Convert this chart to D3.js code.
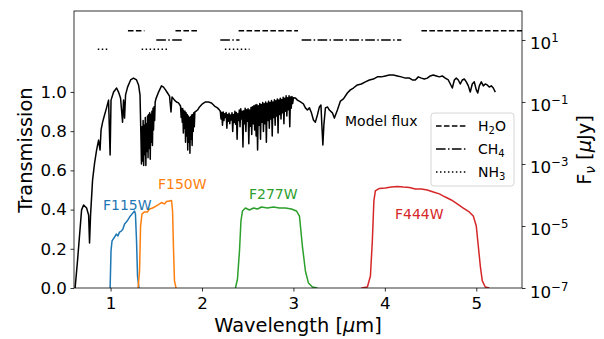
<!DOCTYPE html>
<html>
<head>
<meta charset="utf-8">
<script src="https://cdn.jsdelivr.net/npm/d3@7"></script>
<style>
  body { margin: 0; background: #fff; }
  svg { font-family: "DejaVu Sans", sans-serif; }
</style>
</head>
<body>
<svg id="chart" width="604" height="339"></svg>
<script>
// model spectrum: [wavelength um, log10 flux uJy]
const modelSpectrum = [
  [0.612,-7.00],[0.639,-6.10],[0.661,-5.29],[0.683,-4.48],[0.705,-4.32],[0.738,-4.42],[0.760,-4.65],[0.770,-5.55],
  [0.781,-4.65],[0.803,-3.52],[0.825,-2.97],[0.847,-2.55],[0.869,-2.23],[0.885,-2.55],[0.896,-1.90],[0.913,-1.65],
  [0.934,-1.42],[0.956,-1.19],[0.978,-0.94],[0.995,-2.71],[1.005,-0.94],[1.033,-0.68],[1.066,-0.55],[1.087,-0.68],
  [1.109,-0.87],[1.120,-1.26],[1.131,-1.65],[1.142,-0.94],[1.153,-1.52],[1.164,-0.77],[1.186,-0.52],[1.219,-0.29],
  [1.251,-0.23],[1.284,-0.29],[1.306,-0.45],[1.322,-0.77],[1.333,-2.23],
  [1.338,-3.00],[1.344,-1.80],[1.350,-2.90],[1.356,-1.60],[1.362,-3.05],[1.368,-1.75],[1.374,-2.70],[1.380,-1.50],
  [1.386,-3.05],[1.392,-1.70],[1.398,-2.60],[1.404,-1.45],[1.410,-2.80],[1.416,-1.40],[1.422,-2.50],[1.428,-1.35],
  [1.434,-2.85],[1.440,-1.40],[1.446,-2.30],[1.452,-1.30],[1.458,-2.40],[1.464,-1.20],[1.470,-1.90],[1.476,-1.15],
  [1.482,-1.60],[1.488,-1.00],[1.496,-0.90],
  [1.525,-0.68],[1.557,-0.48],[1.579,-0.52],[1.601,-0.61],[1.623,-0.71],[1.645,-0.81],[1.661,-1.32],[1.672,-0.84],
  [1.699,-0.94],[1.721,-1.00],[1.743,-1.03],[1.765,-1.13],
  [1.772,-1.50],[1.778,-1.20],[1.784,-1.65],[1.790,-1.22],[1.796,-2.00],[1.802,-1.28],[1.808,-1.85],[1.814,-1.30],
  [1.820,-2.30],[1.826,-1.35],[1.832,-2.10],[1.838,-1.40],[1.844,-2.55],[1.850,-1.45],[1.856,-2.30],[1.862,-1.50],
  [1.868,-2.65],[1.874,-1.48],[1.880,-2.20],[1.886,-1.42],[1.892,-2.40],[1.898,-1.40],[1.904,-1.95],[1.910,-1.35],
  [1.916,-1.80],[1.922,-1.32],
  [1.935,-1.30],[1.951,-1.26],[1.973,-1.16],[2.005,-1.06],[2.038,-1.00],[2.071,-1.00],[2.104,-1.03],[2.137,-1.13],
  [2.169,-1.19],[2.191,-1.26],
  [2.200,-1.30],[2.208,-1.55],[2.216,-1.33],[2.224,-1.75],[2.232,-1.32],[2.240,-1.60],[2.248,-1.38],[2.256,-1.50],
  [2.264,-1.34],[2.272,-1.85],[2.280,-1.40],[2.288,-1.62],[2.296,-1.36],[2.304,-1.70],[2.312,-1.42],[2.320,-1.58],
  [2.328,-1.35],[2.336,-1.95],[2.344,-1.40],[2.352,-1.66],[2.360,-1.30],[2.368,-1.72],[2.376,-1.34],[2.384,-2.20],
  [2.392,-1.38],[2.400,-1.60],[2.408,-1.26],[2.416,-1.80],[2.424,-1.22],[2.432,-1.55],[2.440,-1.30],[2.448,-2.45],
  [2.456,-1.28],[2.464,-1.70],[2.472,-1.20],[2.480,-1.95],[2.488,-1.25],[2.496,-1.62],[2.504,-1.22],[2.512,-2.35],
  [2.520,-1.26],[2.528,-1.78],[2.536,-1.18],[2.544,-2.05],[2.552,-1.15],[2.560,-1.70],[2.568,-1.12],[2.576,-1.90],
  [2.584,-1.10],[2.592,-2.10],[2.600,-1.08],[2.608,-2.55],[2.616,-1.12],[2.624,-1.75],[2.632,-1.05],[2.640,-2.20],
  [2.648,-1.08],[2.656,-1.65],[2.664,-1.02],[2.672,-1.95],[2.680,-1.06],[2.688,-1.70],[2.696,-1.00],[2.704,-2.30],
  [2.712,-1.04],[2.720,-1.60],[2.728,-0.98],[2.736,-1.85],[2.744,-1.02],[2.752,-1.55],[2.760,-0.95],[2.768,-2.10],
  [2.776,-1.00],[2.784,-1.50],[2.792,-0.93],[2.800,-1.75],[2.808,-0.96],[2.816,-1.45],[2.824,-0.90],[2.832,-2.00],
  [2.840,-0.94],[2.848,-1.40],[2.856,-0.88],[2.864,-1.55],[2.872,-0.92],[2.880,-1.35],[2.888,-0.85],[2.896,-1.70],
  [2.904,-0.88],[2.912,-1.30],[2.920,-0.80],[2.928,-1.45],[2.936,-0.86],[2.944,-1.25],[2.952,-0.80],[2.960,-1.80],
  [2.968,-0.84],[2.976,-1.20],[2.984,-0.82],[2.992,-1.05],[3.000,-0.86],
  [3.022,-0.87],[3.044,-0.94],[3.077,-1.00],[3.109,-1.06],[3.131,-1.19],[3.153,-1.26],[3.175,-1.19],[3.197,-1.35],
  [3.219,-1.58],[3.240,-1.65],[3.262,-1.42],[3.284,-1.16],[3.301,-1.10],[3.311,-1.74],[3.322,-2.39],[3.333,-1.74],
  [3.350,-1.19],[3.372,-1.16],[3.393,-1.26],[3.426,-1.35],[3.448,-1.52],[3.481,-1.26],[3.514,-0.97],[3.547,-0.90],
  [3.590,-0.71],[3.623,-0.61],[3.656,-0.55],[3.699,-0.45],[3.743,-0.42],[3.787,-0.35],[3.831,-0.29],[3.874,-0.26],
  [3.918,-0.19],[3.962,-0.19],[4.005,-0.16],[4.049,-0.13],[4.093,-0.13],[4.137,-0.16],[4.180,-0.19],[4.224,-0.23],
  [4.268,-0.23],[4.301,-0.29],[4.333,-0.29],[4.366,-0.19],[4.399,-0.23],[4.432,-0.26],[4.464,-0.23],[4.497,-0.16],
  [4.530,-0.13],[4.563,-0.16],[4.596,-0.19],[4.628,-0.16],[4.661,-0.23],[4.694,-0.29],[4.716,-0.42],[4.738,-0.55],
  [4.760,-0.29],[4.781,-0.23],[4.803,-0.29],[4.825,-0.42],[4.847,-0.29],[4.869,-0.26],[4.891,-0.35],[4.913,-0.48],
  [4.934,-0.68],[4.956,-0.42],[4.978,-0.35],[5.000,-0.61],[5.016,-0.71],[5.033,-0.48],[5.055,-0.35],[5.077,-0.48],
  [5.098,-0.42],[5.120,-0.45],[5.142,-0.52],[5.164,-0.48],[5.186,-0.55],[5.208,-0.68]
];

// filter transmission curves
const f115Wave  = [0.995,1.005,1.016,1.044,1.062,1.080,1.098,1.117,1.134,1.153,1.172,1.189,1.208,1.226,1.244,1.262,1.272,1.284,1.295,1.311];
const f115Trans = [0,0.19,0.24,0.26,0.275,0.265,0.285,0.29,0.30,0.327,0.337,0.347,0.362,0.372,0.383,0.393,0.378,0.24,0.06,0];
const f150Wave  = [1.301,1.317,1.328,1.344,1.372,1.404,1.426,1.459,1.497,1.536,1.557,1.590,1.612,1.645,1.667,1.678,1.689,1.699,1.716];
const f150Trans = [0,0.087,0.316,0.378,0.388,0.388,0.403,0.408,0.418,0.429,0.436,0.429,0.441,0.444,0.446,0.393,0.189,0.036,0];
const f277Wave  = [2.366,2.388,2.410,2.426,2.443,2.475,2.519,2.563,2.607,2.650,2.716,2.781,2.847,2.913,2.978,3.033,3.066,3.098,3.131,3.164,3.208,3.262];
const f277Trans = [0,0.046,0.189,0.342,0.393,0.408,0.398,0.408,0.403,0.413,0.408,0.413,0.408,0.408,0.403,0.393,0.367,0.214,0.087,0.026,0.005,0];
const f444Wave  = [3.743,3.809,3.842,3.863,3.880,3.896,3.940,4.005,4.071,4.137,4.202,4.268,4.333,4.399,4.464,4.530,4.596,4.661,4.727,4.792,4.858,4.923,4.967,5.000,5.022,5.044,5.066,5.098,5.142];
const f444Trans = [0,0.005,0.061,0.24,0.444,0.495,0.508,0.510,0.515,0.518,0.515,0.513,0.505,0.505,0.500,0.490,0.480,0.464,0.449,0.429,0.408,0.388,0.367,0.316,0.214,0.112,0.036,0.005,0];

const filterNames = ['F115W', 'F150W', 'F277W', 'F444W'];
const filterColors = ['#1f77b4', '#ff7f0e', '#2ca02c', '#d62728'];
const filterLabelPos = [[103, 210], [158, 189], [249, 199], [395, 219]];

// molecular absorption bands [start, end] in um
const h2oBands = [[1.19, 1.37], [1.71, 1.95], [2.40, 3.05], [4.40, 5.60]];
const ch4Bands = [[1.50, 1.78], [2.20, 2.41], [3.09, 4.18]];
const nh3Bands = [[0.86, 0.97], [1.34, 1.63], [2.25, 2.52]];
const bandLevel = { h2o: 20, ch4: 10, nh3: 5 };

const transTicks = [0, 0.2, 0.4, 0.6, 0.8, 1.0];
const waveTicks = [1, 2, 3, 4, 5];
const fluxTicks = [1e1, 1e-1, 1e-3, 1e-5, 1e-7];
const fluxTickExp = ['1', '\u22121', '\u22123', '\u22125', '\u22127'];

const plotL = 74, plotR = 522, plotT = 11, plotB = 288;

const x = d3.scaleLinear().domain([0.6, 5.5]).range([plotL, plotR]);
const yT = d3.scaleLinear().domain([0, 1.413]).range([plotB, plotT]);
const yF = d3.scaleLog().domain([1e-7, 86]).range([plotB, plotT]);

const svg = d3.select('#chart');

svg.append('defs').append('clipPath').attr('id', 'plot')
  .append('rect').attr('x', plotL).attr('y', plotT)
  .attr('width', plotR - plotL).attr('height', plotB - plotT);

const g = svg.append('g').attr('clip-path', 'url(#plot)');

// model flux
const modelLine = d3.line()
  .x(d => x(d[0]))
  .y(d => yF(Math.pow(10, d[1])));
g.append('path')
  .attr('d', modelLine(modelSpectrum))
  .attr('fill', 'none').attr('stroke', '#000')
  .attr('stroke-width', 1.5).attr('stroke-linejoin', 'round');

// filters
const filterWaves = [f115Wave, f150Wave, f277Wave, f444Wave];
const filterTrans = [f115Trans, f150Trans, f277Trans, f444Trans];
filterNames.forEach((name, k) => {
  const line = d3.line()
    .x((d, i) => x(filterWaves[k][i]))
    .y(d => yT(d));
  g.append('path')
    .attr('d', line(filterTrans[k]))
    .attr('fill', 'none').attr('stroke', filterColors[k])
    .attr('stroke-width', 1.5).attr('stroke-linejoin', 'round');
  svg.append('text')
    .attr('x', filterLabelPos[k][0]).attr('y', filterLabelPos[k][1])
    .attr('font-size', 14).attr('fill', filterColors[k])
    .text(name);
});

// bands
const dashH2O = '5.55,2.4', dashCH4 = '9.6,2.4,1.5,2.4', dashNH3 = '1.5,2.475';
function drawBands(bands, level, dash) {
  g.selectAll(null).data(bands).enter().append('line')
    .attr('x1', d => x(d[0])).attr('x2', d => x(d[1]))
    .attr('y1', yF(level)).attr('y2', yF(level))
    .attr('stroke', '#000').attr('stroke-width', 1.5)
    .attr('stroke-dasharray', dash);
}
drawBands(h2oBands, bandLevel.h2o, dashH2O);
drawBands(ch4Bands, bandLevel.ch4, dashCH4);
drawBands(nh3Bands, bandLevel.nh3, dashNH3);

// model label
svg.append('text').attr('x', 345).attr('y', 126)
  .attr('font-size', 14).text('Model flux');

// legend
const lg = svg.append('g');
lg.append('rect').attr('x', 431).attr('y', 113).attr('width', 83).attr('height', 73)
  .attr('rx', 3).attr('fill', '#fff').attr('fill-opacity', 0.8)
  .attr('stroke', '#cccccc').attr('stroke-width', 0.8);
const legendItems = [['H', '2', 'O', dashH2O], ['CH', '4', '', dashCH4], ['NH', '3', '', dashNH3]];
legendItems.forEach((it, i) => {
  const ly = 126 + i * 23;
  lg.append('line').attr('x1', 436).attr('x2', 466).attr('y1', ly).attr('y2', ly)
    .attr('stroke', '#000').attr('stroke-width', 1.5).attr('stroke-dasharray', it[3]);
  const t = lg.append('text').attr('x', 478).attr('y', ly + 5).attr('font-size', 14);
  t.append('tspan').text(it[0]);
  t.append('tspan').attr('font-size', 10).attr('dy', 3).text(it[1]);
  if (it[2]) t.append('tspan').attr('dy', -3).text(it[2]);
});

// axes
const ax = svg.append('g').attr('transform', `translate(0,${plotB})`)
  .call(d3.axisBottom(x).tickValues(waveTicks).tickFormat(d3.format('d'))
    .tickSize(3.5).tickPadding(3.5).tickSizeOuter(0));
ax.selectAll('text').attr('font-size', 16.7).attr('font-family', 'DejaVu Sans')
  .attr('y', 9).attr('dy', '0.71em').attr('fill', '#000');

const ayl = svg.append('g').attr('transform', `translate(${plotL},0)`)
  .call(d3.axisLeft(yT).tickValues(transTicks).tickFormat(d3.format('.1f'))
    .tickSize(3.5).tickPadding(3.5).tickSizeOuter(0));
ayl.selectAll('text').attr('font-size', 16.7).attr('font-family', 'DejaVu Sans')
  .attr('x', -7).attr('fill', '#000');

const ayr = svg.append('g').attr('transform', `translate(${plotR},0)`)
  .call(d3.axisRight(yF).tickValues(fluxTicks).tickFormat('')
    .tickSize(3.5).tickSizeOuter(0));
ayr.selectAll('.tick text').remove();
ayr.selectAll('.tick').each(function (d, i) {
  const t = d3.select(this).append('text')
    .attr('x', 8).attr('y', 9).attr('fill', '#000')
    .attr('font-size', 16.7).attr('font-family', 'DejaVu Sans');
  t.append('tspan').text('10');
  t.append('tspan').attr('font-size', 11.7).attr('dy', -7).text(fluxTickExp[i]);
});
[ax, ayl, ayr].forEach(a => {
  a.select('.domain').remove();
  a.selectAll('line').attr('stroke', '#000').attr('stroke-width', 0.8);
});

svg.append('rect').attr('x', plotL).attr('y', plotT)
  .attr('width', plotR - plotL).attr('height', plotB - plotT)
  .attr('fill', 'none').attr('stroke', '#000').attr('stroke-width', 0.8);

// axis labels
svg.append('text').attr('x', (plotL + plotR) / 2).attr('y', 332)
  .attr('text-anchor', 'middle').attr('font-size', 19.4)
  .call(t => {
    t.append('tspan').text('Wavelength [');
    t.append('tspan').attr('font-style', 'italic').text('\u03bc');
    t.append('tspan').text('m]');
  });

svg.append('text').attr('transform', 'translate(32,150) rotate(-90)')
  .attr('text-anchor', 'middle').attr('font-size', 19.4).text('Transmission');

svg.append('text').attr('transform', 'translate(591,150) rotate(-90)')
  .attr('text-anchor', 'middle').attr('font-size', 19.4)
  .call(t => {
    t.append('tspan').text('F');
    t.append('tspan').attr('font-size', 13.6).attr('font-style', 'italic').attr('dy', 4).text('\u03bd');
    t.append('tspan').attr('dy', -4).text(' [');
    t.append('tspan').attr('font-style', 'italic').text('\u03bc');
    t.append('tspan').text('Jy]');
  });
</script>
</body>
</html>
